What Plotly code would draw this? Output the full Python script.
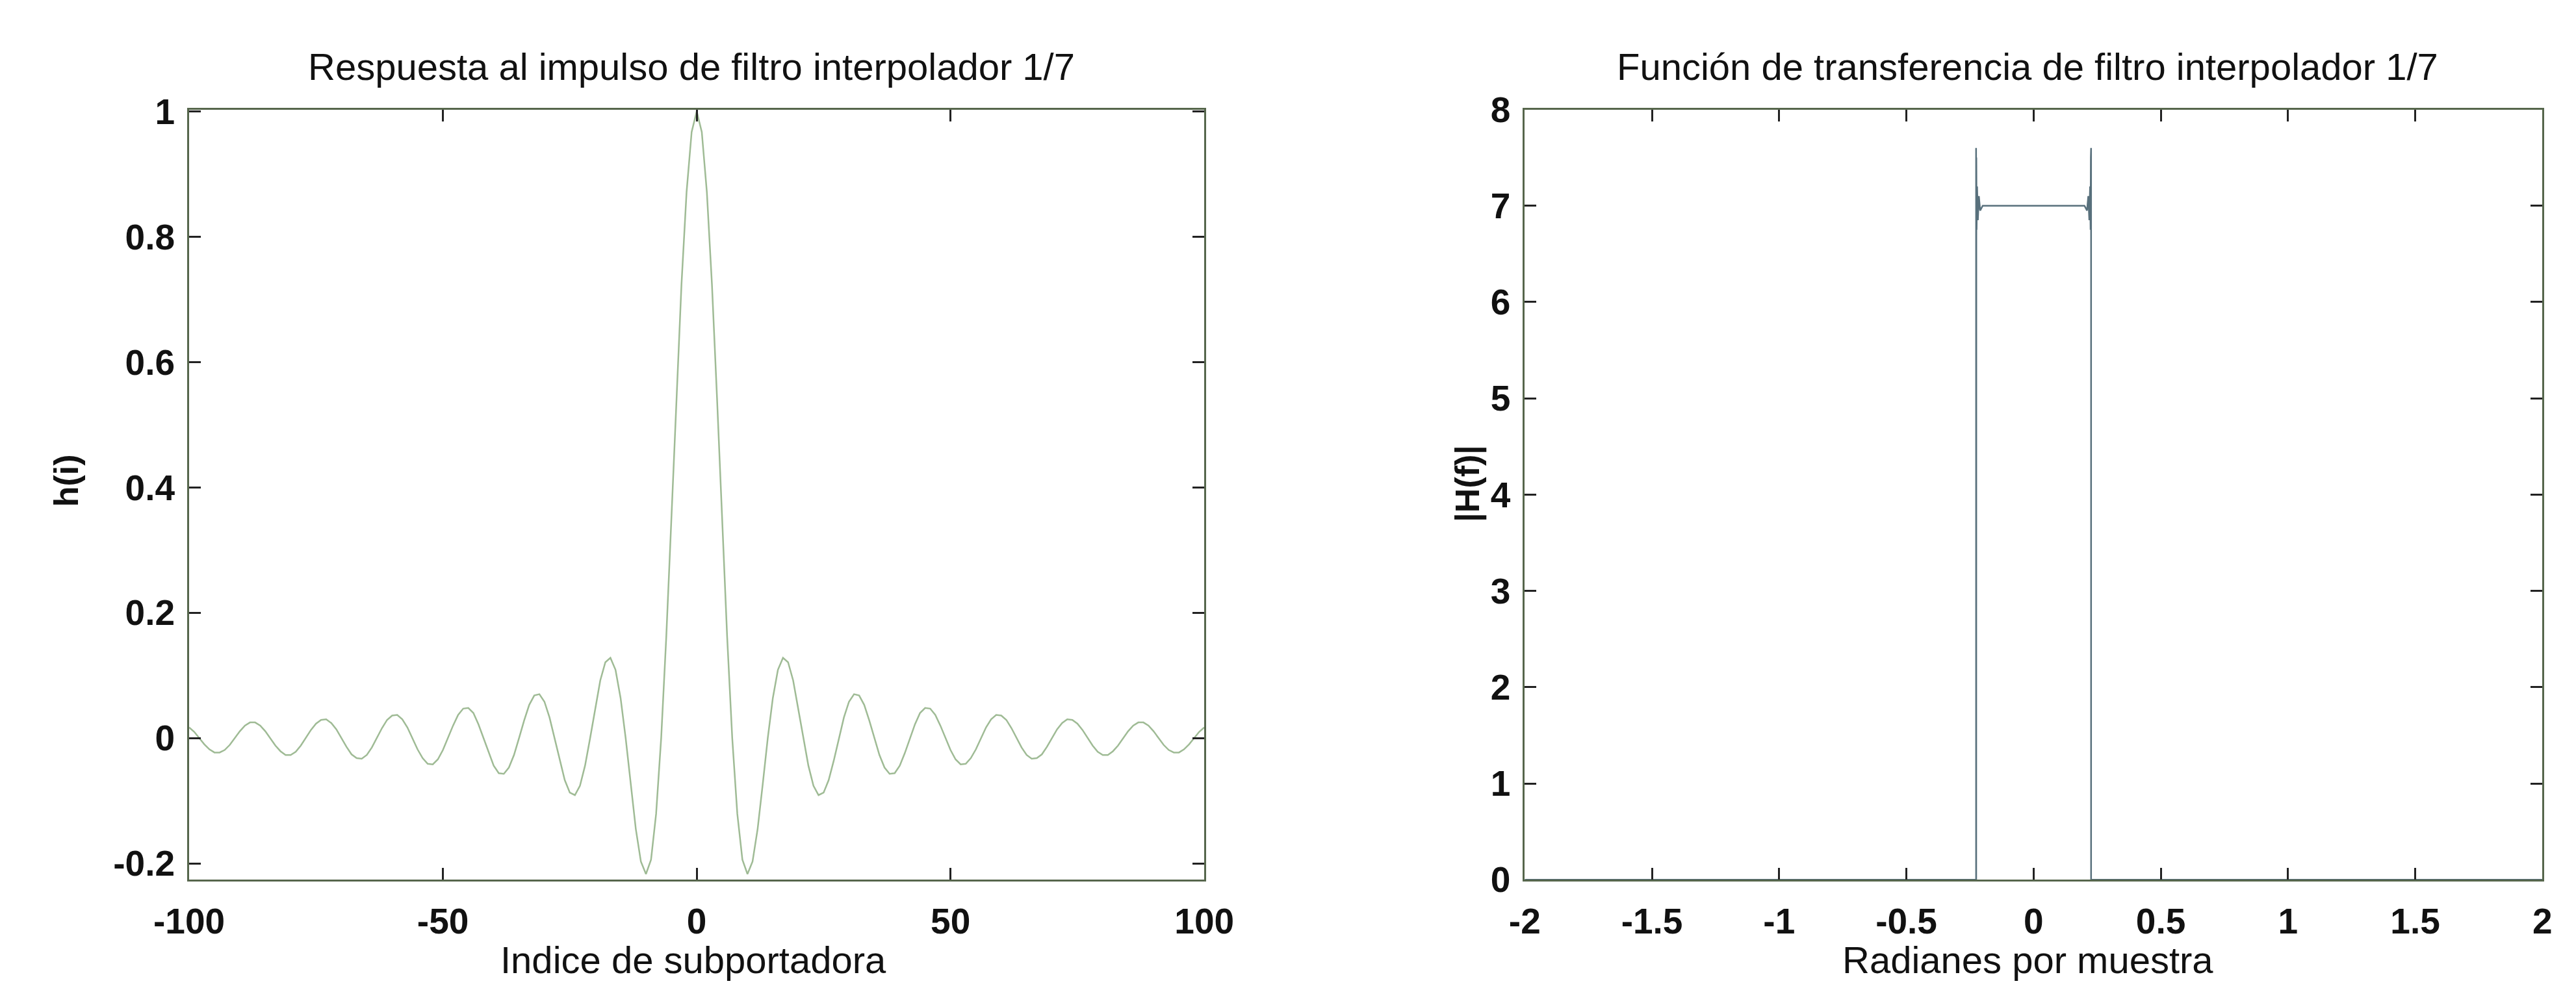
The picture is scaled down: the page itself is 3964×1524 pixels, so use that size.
import plotly.graph_objects as go

W, H = 3964, 1524

# ---------------- data ----------------
# Left: impulse response h(i) vs subcarrier index
indices = list(range(-100, 101))
h_values = [
    0.017, 0.010, 0.000, -0.010, -0.018, -0.023, -0.023, -0.019, -0.011, 0.000,
    0.011, 0.020, 0.025, 0.025, 0.020, 0.011, 0.000, -0.012, -0.021, -0.027,
    -0.027, -0.022, -0.012, 0.000, 0.013, 0.023, 0.029, 0.030, 0.024, 0.014,
    0.000, -0.014, -0.026, -0.032, -0.033, -0.027, -0.015, 0.000, 0.016, 0.029,
    0.036, 0.037, 0.030, 0.017, 0.000, -0.018, -0.032, -0.041, -0.042, -0.034,
    -0.019, 0.000, 0.020, 0.037, 0.047, 0.048, 0.040, 0.022, 0.000, -0.024,
    -0.044, -0.056, -0.057, -0.047, -0.027, 0.000, 0.028, 0.053, 0.068, 0.070,
    0.058, 0.033, 0.000, -0.036, -0.067, -0.087, -0.091, -0.076, -0.044, 0.000,
    0.048, 0.092, 0.121, 0.128, 0.109, 0.064, 0.000, -0.074, -0.145, -0.197,
    -0.217, -0.194, -0.121, 0.000, 0.161, 0.348, 0.543, 0.724, 0.871, 0.967,
    1.000,
    0.967, 0.871, 0.724, 0.543, 0.348, 0.161, 0.000, -0.121, -0.194, -0.217,
    -0.197, -0.145, -0.074, 0.000, 0.064, 0.109, 0.128, 0.121, 0.092, 0.048,
    0.000, -0.044, -0.076, -0.091, -0.087, -0.067, -0.036, 0.000, 0.033, 0.058,
    0.070, 0.068, 0.053, 0.028, 0.000, -0.027, -0.047, -0.057, -0.056, -0.044,
    -0.024, 0.000, 0.022, 0.040, 0.048, 0.047, 0.037, 0.020, 0.000, -0.019,
    -0.034, -0.042, -0.041, -0.032, -0.018, 0.000, 0.017, 0.030, 0.037, 0.036,
    0.029, 0.016, 0.000, -0.015, -0.027, -0.033, -0.032, -0.026, -0.014, 0.000,
    0.014, 0.024, 0.030, 0.029, 0.023, 0.013, 0.000, -0.012, -0.022, -0.027,
    -0.027, -0.021, -0.012, 0.000, 0.011, 0.020, 0.025, 0.025, 0.020, 0.011,
    0.000, -0.011, -0.019, -0.023, -0.023, -0.018, -0.010, 0.000, 0.010, 0.017,
]

# Right: |H(f)| vs radians per sample (steep band edges with ripple)
freq = [-2.0, -0.226, -0.226, -0.2255, -0.225, -0.224, -0.222, -0.219, -0.215,
        -0.210, -0.200, 0.200, 0.210, 0.215, 0.219, 0.222, 0.224, 0.225,
        0.2255, 0.226, 0.226, 2.0]
mag = [0.0, 0.0, 7.6, 0.0, 7.5, 6.75, 7.2, 6.85, 7.1, 6.95, 7.0, 7.0, 6.95,
       7.1, 6.85, 7.2, 6.75, 7.5, 0.0, 7.6, 0.0, 0.0]

# Tick labels
x1_ticks = [-100, -50, 0, 50, 100]
x1_text = ["-100", "-50", "0", "50", "100"]
y1_ticks = [-0.2, 0, 0.2, 0.4, 0.6, 0.8, 1]
y1_text = ["-0.2", "0", "0.2", "0.4", "0.6", "0.8", "1"]
x2_ticks = [-2, -1.5, -1, -0.5, 0, 0.5, 1, 1.5, 2]
x2_text = ["-2", "-1.5", "-1", "-0.5", "0", "0.5", "1", "1.5", "2"]
y2_ticks = [0, 1, 2, 3, 4, 5, 6, 7, 8]
y2_text = ["0", "1", "2", "3", "4", "5", "6", "7", "8"]

titles = ["Respuesta al impulso de filtro interpolador 1/7",
          "Función de transferencia de filtro interpolador 1/7"]
x_titles = ["Indice de subportadora", "Radianes por muestra"]
y_titles = ["h(i)", "|H(f)|"]

# ---------------- layout helpers ----------------
def px_x(p):
    return p / W

def px_y(p):
    return 1 - p / H

FONT = "Liberation Sans, Arial, Helvetica, sans-serif"
AX_COLOR = "#56664c"
TICK_FONT = dict(family=FONT, size=55, color="#111111", weight="bold")

fig = go.Figure()
fig.add_trace(go.Scatter(x=indices, y=h_values, mode="lines",
                         line=dict(color="#9fbb95", width=2.5),
                         xaxis="x", yaxis="y", showlegend=False))
fig.add_trace(go.Scatter(x=freq, y=mag, mode="lines",
                         line=dict(color="#58707c", width=2.5),
                         xaxis="x2", yaxis="y2", showlegend=False))

def axis(domain, rng, tv, tt, anchor, standoff):
    return dict(domain=domain, range=rng, tickvals=tv, ticktext=tt,
                anchor=anchor, showline=True, linecolor=AX_COLOR, linewidth=3,
                mirror="ticks", ticks="inside", ticklen=18, tickwidth=3,
                tickcolor="#222222", showgrid=False, zeroline=False,
                tickfont=TICK_FONT, ticklabelstandoff=standoff)

yd = [px_y(1371), px_y(135)]
fig.update_layout(
    width=W, height=H,
    margin=dict(l=0, r=0, t=0, b=0),
    paper_bgcolor="white", plot_bgcolor="white",
    xaxis=axis([px_x(234), px_x(1837)], [-100, 100], x1_ticks, x1_text, "y", 14),
    yaxis=axis(yd, [-0.226, 1.003], y1_ticks, y1_text, "x", 8),
    xaxis2=axis([px_x(2343), px_x(3950)], [-2, 2], x2_ticks, x2_text, "y2", 14),
    yaxis2=axis(yd, [0, 8], y2_ticks, y2_text, "x2", 8),
)

ann_font = dict(family=FONT, size=58, color="#111111")
title_centers = [1027, 3137]
xtitle_centers = [1030, 3137]
for i in range(2):
    fig.add_annotation(text=titles[i], x=px_x(title_centers[i]), y=px_y(66),
                       xref="paper", yref="paper", showarrow=False,
                       xanchor="center", yanchor="middle", font=ann_font)
    fig.add_annotation(text=x_titles[i], x=px_x(xtitle_centers[i]), y=px_y(1500),
                       xref="paper", yref="paper", showarrow=False,
                       xanchor="center", yanchor="middle", font=ann_font)
fig.add_annotation(text=y_titles[0], x=px_x(40), y=px_y(730), xref="paper",
                   yref="paper", showarrow=False, textangle=-90,
                   xanchor="center", yanchor="middle",
                   font=dict(family=FONT, size=52, color="#111111", weight="bold"))
fig.add_annotation(text=y_titles[1], x=px_x(2252), y=px_y(735), xref="paper",
                   yref="paper", showarrow=False, textangle=-90,
                   xanchor="center", yanchor="middle",
                   font=dict(family=FONT, size=52, color="#111111", weight="bold"))

fig.write_html("out.html")
